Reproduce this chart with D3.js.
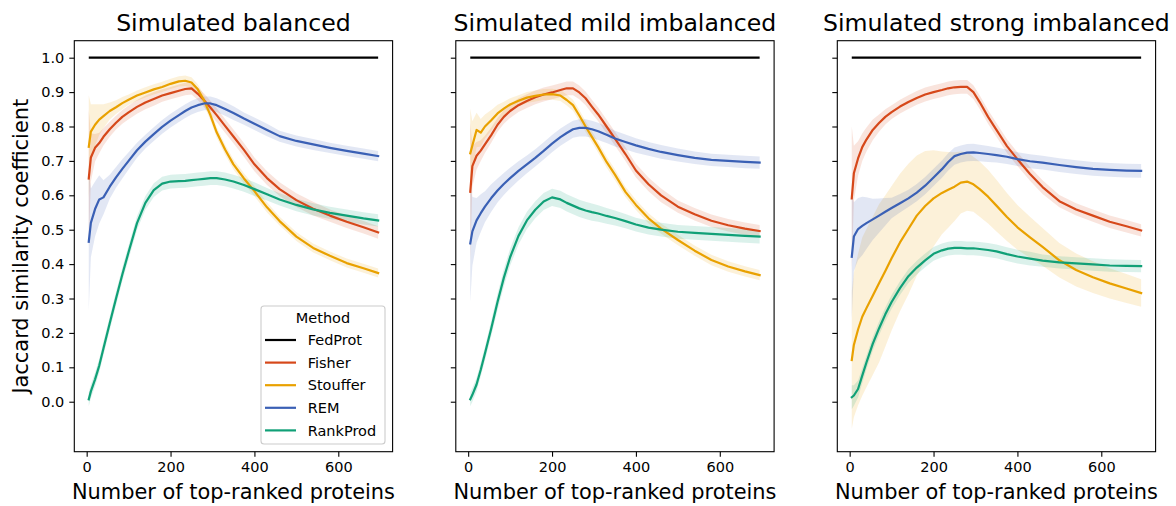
<!DOCTYPE html>
<html><head><meta charset="utf-8">
<script src="https://cdn.jsdelivr.net/npm/d3@7"></script>
<style>body{margin:0;background:#fff}svg{display:block}text{font-family:"DejaVu Sans",sans-serif}</style>
</head><body><svg id="chart" width="1176" height="506"></svg>
<script>
// ---------- data ----------
const xValues = [5, 10, 20, 30, 40, 55, 70, 85, 100, 120, 140, 160, 180, 200, 220, 235, 250, 265, 280, 295, 310, 330, 350, 375, 400, 430, 460, 500, 540, 580, 620, 660, 695];
const methods = ["FedProt", "Fisher", "Stouffer", "REM", "RankProd"];
const panelTitles = ["Simulated balanced", "Simulated mild imbalanced", "Simulated strong imbalanced"];
const xTicks = [0, 200, 400, 600];
const yTicks = [0.0, 0.1, 0.2, 0.3, 0.4, 0.5, 0.6, 0.7, 0.8, 0.9, 1.0];
const fedprotX = [5, 695];
const fedprotY = [1.0, 1.0];

// balanced
const balancedFisher   = [0.649,0.71,0.738,0.752,0.77,0.792,0.811,0.828,0.841,0.857,0.87,0.88,0.89,0.897,0.904,0.909,0.911,0.895,0.876,0.855,0.833,0.802,0.771,0.732,0.69,0.65,0.618,0.586,0.561,0.541,0.523,0.507,0.492];
const balancedStouffer = [0.741,0.785,0.805,0.82,0.83,0.845,0.856,0.868,0.878,0.89,0.899,0.908,0.915,0.924,0.931,0.933,0.928,0.908,0.876,0.833,0.783,0.733,0.69,0.649,0.612,0.565,0.525,0.48,0.447,0.424,0.403,0.388,0.374];
const balancedREM      = [0.465,0.52,0.56,0.588,0.594,0.625,0.652,0.677,0.70,0.731,0.756,0.778,0.799,0.817,0.833,0.845,0.855,0.862,0.867,0.867,0.862,0.851,0.839,0.823,0.808,0.79,0.772,0.758,0.748,0.738,0.729,0.721,0.714];
const balancedRankProd = [0.007,0.03,0.065,0.105,0.155,0.228,0.30,0.37,0.435,0.519,0.578,0.615,0.634,0.64,0.641,0.642,0.644,0.646,0.648,0.65,0.65,0.646,0.64,0.63,0.618,0.603,0.588,0.572,0.559,0.549,0.541,0.533,0.527];
const balancedFisherCI   = [0.2,0.07,0.04,0.03,0.025,0.022,0.02,0.02,0.02,0.02,0.02,0.02,0.018,0.018,0.018,0.018,0.018,0.018,0.02,0.02,0.02,0.02,0.02,0.02,0.02,0.02,0.02,0.02,0.02,0.018,0.018,0.018,0.018];
const balancedStoufferCI = [0.15,0.08,0.06,0.045,0.035,0.025,0.02,0.018,0.015,0.015,0.015,0.015,0.015,0.015,0.015,0.015,0.015,0.015,0.015,0.015,0.015,0.015,0.015,0.015,0.015,0.015,0.013,0.013,0.013,0.013,0.013,0.013,0.013];
const balancedREMCI      = [0.2,0.1,0.08,0.07,0.05,0.035,0.03,0.028,0.025,0.022,0.02,0.02,0.02,0.02,0.02,0.02,0.02,0.02,0.02,0.02,0.02,0.02,0.02,0.018,0.018,0.018,0.016,0.016,0.016,0.015,0.015,0.015,0.015];
const balancedRankProdCI = [0.02,0.02,0.02,0.02,0.02,0.02,0.02,0.02,0.02,0.02,0.02,0.02,0.02,0.02,0.02,0.02,0.02,0.02,0.02,0.02,0.02,0.02,0.02,0.02,0.02,0.018,0.018,0.018,0.018,0.018,0.018,0.018,0.018];

// mild imbalanced
const mildFisher   = [0.61,0.685,0.715,0.73,0.748,0.775,0.805,0.828,0.845,0.862,0.874,0.885,0.893,0.899,0.906,0.911,0.911,0.899,0.882,0.858,0.835,0.80,0.765,0.72,0.672,0.632,0.60,0.567,0.545,0.526,0.513,0.503,0.496];
const mildStouffer = [0.722,0.745,0.79,0.782,0.80,0.818,0.838,0.852,0.864,0.875,0.884,0.889,0.893,0.894,0.89,0.877,0.862,0.832,0.80,0.77,0.74,0.697,0.66,0.61,0.572,0.533,0.503,0.47,0.439,0.412,0.393,0.379,0.368];
const mildREM      = [0.46,0.495,0.527,0.548,0.567,0.592,0.614,0.633,0.65,0.671,0.69,0.709,0.729,0.75,0.769,0.781,0.792,0.796,0.796,0.792,0.786,0.776,0.765,0.755,0.745,0.735,0.726,0.717,0.709,0.703,0.70,0.697,0.695];
const mildRankProd = [0.007,0.02,0.05,0.093,0.14,0.213,0.29,0.36,0.42,0.482,0.527,0.558,0.582,0.594,0.588,0.578,0.57,0.562,0.556,0.551,0.547,0.54,0.534,0.525,0.515,0.506,0.50,0.494,0.491,0.488,0.485,0.482,0.48];
const mildFisherCI   = [0.2,0.06,0.04,0.03,0.025,0.022,0.02,0.02,0.02,0.02,0.02,0.02,0.02,0.02,0.02,0.02,0.02,0.02,0.02,0.02,0.02,0.02,0.02,0.02,0.02,0.02,0.02,0.018,0.018,0.018,0.018,0.018,0.018];
const mildStoufferCI = [0.13,0.07,0.05,0.04,0.035,0.03,0.025,0.02,0.018,0.016,0.016,0.016,0.016,0.016,0.016,0.016,0.016,0.016,0.016,0.016,0.016,0.016,0.016,0.015,0.015,0.015,0.015,0.015,0.015,0.015,0.015,0.015,0.015];
const mildREMCI      = [0.17,0.1,0.065,0.055,0.045,0.04,0.035,0.032,0.03,0.028,0.026,0.025,0.025,0.025,0.025,0.025,0.025,0.025,0.025,0.025,0.025,0.024,0.023,0.022,0.021,0.02,0.02,0.019,0.018,0.018,0.018,0.018,0.018];
const mildRankProdCI = [0.02,0.02,0.02,0.02,0.02,0.022,0.024,0.025,0.025,0.025,0.025,0.025,0.025,0.025,0.025,0.025,0.025,0.025,0.025,0.025,0.024,0.023,0.022,0.021,0.02,0.02,0.02,0.02,0.02,0.02,0.02,0.02,0.02];

// strong imbalanced
const strongFisher   = [0.591,0.664,0.707,0.74,0.762,0.79,0.81,0.828,0.842,0.858,0.871,0.883,0.893,0.90,0.906,0.911,0.914,0.915,0.915,0.90,0.871,0.828,0.79,0.743,0.705,0.662,0.624,0.583,0.559,0.541,0.523,0.51,0.498];
const strongStouffer = [0.121,0.165,0.21,0.247,0.272,0.308,0.344,0.38,0.417,0.463,0.502,0.541,0.569,0.591,0.607,0.616,0.625,0.637,0.64,0.632,0.618,0.596,0.57,0.537,0.507,0.478,0.45,0.411,0.383,0.362,0.344,0.329,0.316];
const strongREM      = [0.421,0.48,0.502,0.511,0.519,0.53,0.541,0.552,0.563,0.577,0.591,0.608,0.628,0.652,0.676,0.697,0.714,0.72,0.724,0.725,0.723,0.72,0.717,0.712,0.705,0.699,0.695,0.688,0.682,0.677,0.674,0.672,0.671];
const strongRankProd = [0.013,0.018,0.037,0.076,0.114,0.168,0.213,0.254,0.29,0.33,0.365,0.39,0.411,0.43,0.44,0.445,0.447,0.447,0.446,0.446,0.444,0.441,0.437,0.429,0.422,0.416,0.41,0.405,0.402,0.399,0.396,0.395,0.394];
const strongFisherCI   = [0.21,0.08,0.05,0.04,0.035,0.03,0.025,0.022,0.02,0.02,0.02,0.02,0.02,0.02,0.02,0.02,0.02,0.02,0.02,0.02,0.02,0.02,0.02,0.02,0.02,0.02,0.02,0.018,0.018,0.018,0.018,0.018,0.018];
const strongStoufferCI = [0.2,0.21,0.22,0.23,0.23,0.23,0.23,0.22,0.21,0.2,0.19,0.175,0.16,0.14,0.12,0.11,0.1,0.09,0.085,0.08,0.08,0.078,0.075,0.07,0.065,0.06,0.055,0.05,0.048,0.046,0.044,0.042,0.04];
const strongREMCI      = [0.18,0.1,0.09,0.085,0.075,0.06,0.05,0.04,0.03,0.027,0.025,0.025,0.025,0.025,0.025,0.025,0.025,0.025,0.025,0.025,0.024,0.023,0.022,0.021,0.02,0.02,0.02,0.02,0.02,0.02,0.02,0.02,0.02];
const strongRankProdCI = [0.035,0.03,0.025,0.022,0.02,0.02,0.02,0.02,0.02,0.02,0.02,0.02,0.02,0.02,0.02,0.02,0.02,0.02,0.02,0.02,0.02,0.02,0.02,0.02,0.02,0.02,0.018,0.018,0.018,0.018,0.018,0.018,0.018];

const colors = {FedProt: "#000000", Fisher: "#D6481A", Stouffer: "#E9A100", REM: "#3A60B5", RankProd: "#10A077"};

const panels = [
  {title: panelTitles[0], series: {Fisher: [balancedFisher, balancedFisherCI], Stouffer: [balancedStouffer, balancedStoufferCI], REM: [balancedREM, balancedREMCI], RankProd: [balancedRankProd, balancedRankProdCI]}},
  {title: panelTitles[1], series: {Fisher: [mildFisher, mildFisherCI], Stouffer: [mildStouffer, mildStoufferCI], REM: [mildREM, mildREMCI], RankProd: [mildRankProd, mildRankProdCI]}},
  {title: panelTitles[2], series: {Fisher: [strongFisher, strongFisherCI], Stouffer: [strongStouffer, strongStoufferCI], REM: [strongREM, strongREMCI], RankProd: [strongRankProd, strongRankProdCI]}}
];

// ---------- layout ----------
const svg = d3.select("#chart");
const panelLefts = [74.3, 455.8, 837.3];
const panelWidth = 318.3;
const plotTop = 40.7, plotBottom = 451.7;
const tickFont = "14.5px";

const y = d3.scaleLinear().domain([-0.1453, 1.0494]).range([plotBottom, plotTop]);

panels.forEach((p, pi) => {
  const left = panelLefts[pi];
  const x = d3.scaleLinear().domain([-29.5, 729.5]).range([left, left + panelWidth]);
  const g = svg.append("g");

  // bands
  ["Fisher", "Stouffer", "REM", "RankProd"].forEach(m => {
    const [vals, ci] = p.series[m];
    const data = xValues.map((xv, i) => ({x: xv, y: vals[i], lo: vals[i] - ci[i], hi: vals[i] + ci[i]}));
    g.append("path").datum(data)
      .attr("d", d3.area().x(d => x(d.x)).y0(d => y(d.lo)).y1(d => y(d.hi)))
      .attr("fill", colors[m]).attr("fill-opacity", 0.15).attr("stroke", "none");
  });
  // lines
  g.append("path").datum(fedprotX.map((xv, i) => ({x: xv, y: fedprotY[i]})))
    .attr("d", d3.line().x(d => x(d.x)).y(d => y(d.y)))
    .attr("fill", "none").attr("stroke", colors.FedProt).attr("stroke-width", 2.2);
  ["Fisher", "Stouffer", "REM", "RankProd"].forEach(m => {
    const [vals] = p.series[m];
    const data = xValues.map((xv, i) => ({x: xv, y: vals[i]}));
    g.append("path").datum(data)
      .attr("d", d3.line().x(d => x(d.x)).y(d => y(d.y)))
      .attr("fill", "none").attr("stroke", colors[m]).attr("stroke-width", 2.2)
      .attr("stroke-linejoin", "round").attr("stroke-linecap", "square");
  });

  // axes
  const xAxis = g.append("g").attr("transform", `translate(0,${plotBottom})`)
    .call(d3.axisBottom(x).tickValues(xTicks).tickSize(5).tickPadding(5).tickFormat(d3.format("d")));
  const yAxis = g.append("g").attr("transform", `translate(${left},0)`)
    .call(d3.axisLeft(y).tickValues(yTicks).tickSize(5).tickPadding(5)
      .tickFormat(pi === 0 ? d3.format(".1f") : () => ""));
  [xAxis, yAxis].forEach(a => {
    a.select(".domain").remove();
    a.selectAll(".tick line").attr("stroke", "#000").attr("stroke-width", 1.1);
    a.selectAll(".tick text").attr("fill", "#000").style("font-size", tickFont).style("font-family", "DejaVu Sans");
  });

  // spines
  g.append("rect").attr("x", left).attr("y", plotTop).attr("width", panelWidth).attr("height", plotBottom - plotTop)
    .attr("fill", "none").attr("stroke", "#000").attr("stroke-width", 1.1);

  // title
  g.append("text").attr("x", left + panelWidth / 2).attr("y", 30.7).attr("text-anchor", "middle")
    .style("font-size", "23.6px").attr("fill", "#000").text(p.title);
  // x label
  g.append("text").attr("x", left + panelWidth / 2).attr("y", 499).attr("text-anchor", "middle")
    .style("font-size", "20.9px").attr("fill", "#000").text("Number of top-ranked proteins");
});

// y label
svg.append("text").attr("transform", `translate(28,${(plotTop + plotBottom) / 2}) rotate(-90)`)
  .attr("text-anchor", "middle").style("font-size", "20.9px").attr("fill", "#000")
  .text("Jaccard similarity coefficient");

// legend
const lg = svg.append("g");
lg.append("rect").attr("x", 261).attr("y", 306).attr("width", 124).attr("height", 138).attr("rx", 3)
  .attr("fill", "#fff").attr("fill-opacity", 0.8).attr("stroke", "#cccccc").attr("stroke-width", 1.1);
lg.append("text").attr("x", 323).attr("y", 322.7).attr("text-anchor", "middle")
  .style("font-size", tickFont).attr("fill", "#000").text("Method");
methods.forEach((m, i) => {
  const yy = 340 + i * 22.6;
  lg.append("line").attr("x1", 265).attr("x2", 296).attr("y1", yy).attr("y2", yy)
    .attr("stroke", colors[m]).attr("stroke-width", 2.2);
  lg.append("text").attr("x", 307.7).attr("y", yy + 5.2).style("font-size", tickFont).attr("fill", "#000").text(m);
});
</script></body></html>
